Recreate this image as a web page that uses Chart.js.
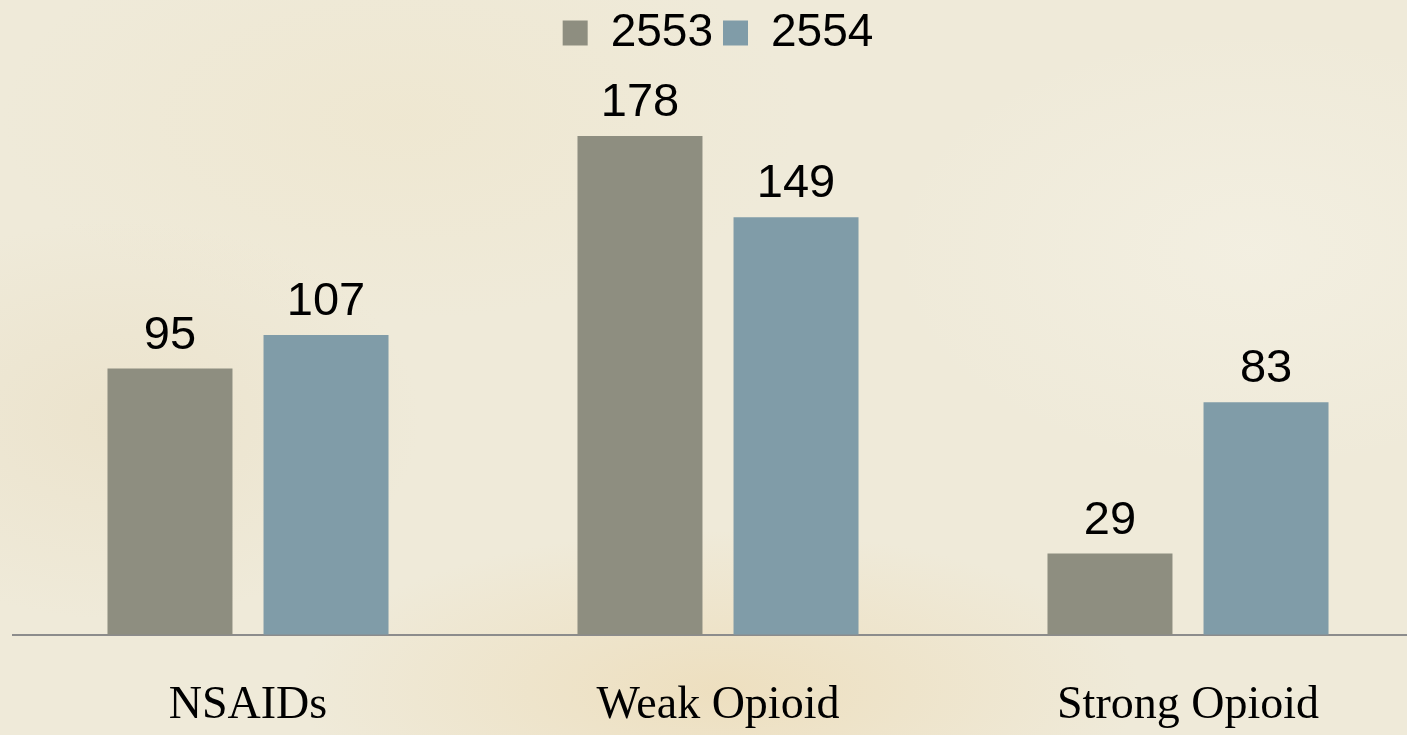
<!DOCTYPE html>
<html>
<head>
<meta charset="utf-8">
<script src="https://cdn.jsdelivr.net/npm/chart.js@4/dist/chart.umd.min.js"></script>
<style>
  html, body {
    margin: 0;
    padding: 0;
    width: 1407px;
    height: 735px;
    overflow: hidden;
    background-color: #efead9;
    background-image:
      radial-gradient(ellipse 420px 160px at 720px 690px, rgba(236, 214, 170, 0.55), rgba(236, 214, 170, 0) 100%),
      radial-gradient(ellipse 300px 200px at 120px 420px, rgba(232, 220, 192, 0.5), rgba(232, 220, 192, 0) 100%),
      radial-gradient(ellipse 360px 220px at 1250px 250px, rgba(245, 242, 230, 0.6), rgba(245, 242, 230, 0) 100%),
      radial-gradient(ellipse 400px 200px at 400px 120px, rgba(238, 228, 200, 0.45), rgba(238, 228, 200, 0) 100%);
  }
  #wrap {
    position: absolute;
    left: 0;
    top: 0;
    width: 1449px;
    height: 778px;
  }
</style>
</head>
<body>
<div id="wrap"><canvas id="chart"></canvas></div>
<script>
// Datos del gráfico
const categorias = ['NSAIDs', 'Weak Opioid', 'Strong Opioid'];
const serie2553 = [95, 178, 29];
const serie2554 = [107, 149, 83];
const etiquetasSeries = ['2553', '2554'];
const ejeMax = 203;

// Etiquetas de valor encima de cada barra
const etiquetasValor = {
  id: 'etiquetasValor',
  afterDatasetsDraw(chart) {
    const ctx = chart.ctx;
    ctx.save();
    ctx.font = '47px "Liberation Sans", Arial, sans-serif';
    ctx.fillStyle = '#000';
    ctx.textAlign = 'center';
    ctx.textBaseline = 'alphabetic';
    chart.data.datasets.forEach((ds, i) => {
      chart.getDatasetMeta(i).data.forEach((bar, j) => {
        ctx.fillText(ds.data[j], bar.x, bar.y - 20);
      });
    });
    ctx.restore();
  }
};

const ctx = document.getElementById('chart').getContext('2d');

new Chart(ctx, {
  type: 'bar',
  data: {
    labels: categorias,
    datasets: [{
      label: etiquetasSeries[0],
      data: serie2553,
      backgroundColor: '#8e8e80'
    }, {
      label: etiquetasSeries[1],
      data: serie2554,
      backgroundColor: '#809ca8'
    }]
  },
  options: {
    responsive: true,
    maintainAspectRatio: false,
    animation: false,
    datasets: {
      bar: {
        categoryPercentage: 0.664,
        barPercentage: 0.801
      }
    },
    layout: {
      padding: { left: 13, right: 26, top: 0, bottom: 0 }
    },
    plugins: {
      legend: {
        position: 'top',
        labels: {
          boxWidth: 25,
          boxHeight: 25,
          padding: 10,
          color: '#000',
          font: { family: '"Liberation Sans", Arial, sans-serif', size: 46 }
        }
      },
      tooltip: { enabled: false }
    },
    scales: {
      x: {
        grid: { display: false, drawTicks: false },
        border: { display: true, color: '#8c8c8c', width: 2 },
        ticks: {
          padding: 44,
          color: '#000',
          font: { family: '"Liberation Serif", "Times New Roman", serif', size: 46 }
        }
      },
      y: {
        min: 0,
        max: ejeMax,
        display: false
      }
    }
  },
  plugins: [etiquetasValor]
});
</script>
</body>
</html>
